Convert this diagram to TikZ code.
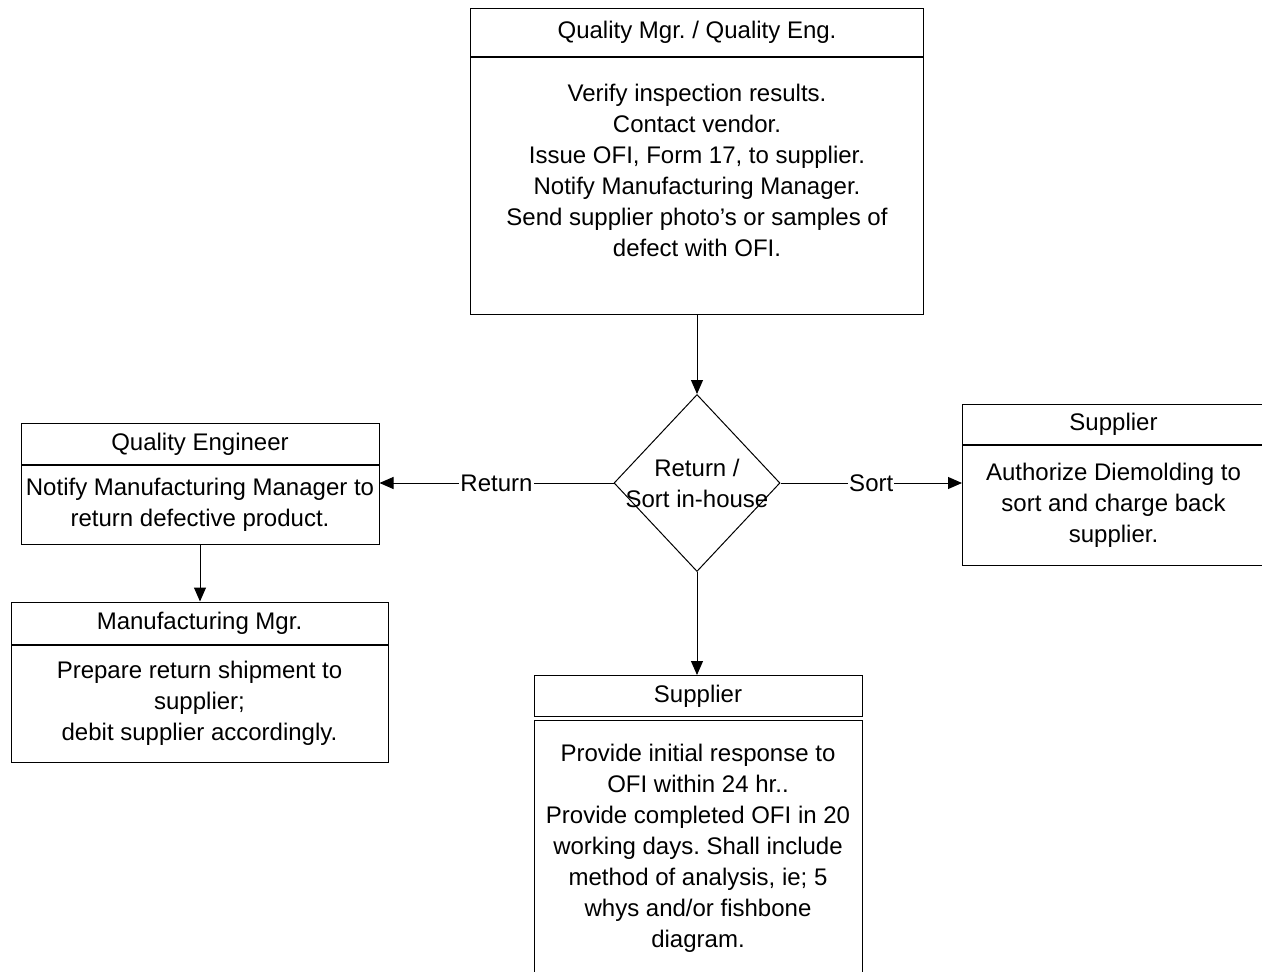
\documentclass[tikz,border=0pt]{standalone}
\usepackage{fontspec}
\setmainfont{Liberation Sans}
\usetikzlibrary{arrows.meta, positioning, shapes.geometric}

\tikzset{
	head/.style={draw, line width=1pt, inner sep=0pt, align=center, minimum height=41pt},
	body/.style={draw, line width=1pt, inner sep=0pt, align=center},
	arr/.style={line width=1pt, -{Triangle[length=14pt, width=12pt]}},
	lbl/.style={fill=white, inner sep=1pt}
}

\begin{document}
\begin{tikzpicture}[x=1pt, y=-1pt, every node/.style={font=\fontsize{24}{31}\selectfont\frenchspacing}]
			\useasboundingbox (0,0) rectangle (1262,972);
			% top box
			\node[head, minimum width=453pt, minimum height=48pt] (qmhead) at (697,32) {Quality Mgr. / Quality Eng.};
			\node[body, minimum width=453pt, minimum height=257pt, below=0pt of qmhead] (qmbody) {Verify inspection results.\\ Contact vendor.\\ Issue OFI, Form 17, to supplier.\\ Notify Manufacturing Manager.\\ Send supplier photo’s or samples of\\ defect with OFI.\\ ~};
			% decision
			\node[draw, line width=1pt, diamond, inner sep=0pt, minimum width=166pt, minimum height=177pt,
				label={[align=center]center:Return /\\Sort in-house}] (dec) at (697,483) {};
			% left side
			\node[head, minimum width=358pt] (qehead) at (200,444) {Quality Engineer};
			\node[body, minimum width=358pt, minimum height=79pt, below=0pt of qehead] (qebody) {Notify Manufacturing Manager to\\ return defective product.};
			\node[head, minimum width=377pt, minimum height=42pt] (mmhead) at (199.5,623) {Manufacturing Mgr.};
			\node[body, minimum width=377pt, minimum height=117pt, below=0pt of mmhead] (mmbody) {Prepare return shipment to\\ supplier;\\ debit supplier accordingly.};
			% right side, runs off the page
			\node[head, minimum width=400pt, minimum height=40pt, anchor=west] (rshead) at (962,424) {\hspace*{-98pt}Supplier};
			\node[body, minimum width=400pt, minimum height=120pt, below=0pt of rshead] (rsbody) {\hspace*{-98pt}\begin{tabular}{@{}c@{}}Authorize Diemolding to\\ sort and charge back\\ supplier.\end{tabular}};
			% bottom, runs off the page
			\node[head, minimum width=328pt] (bshead) at (698,696) {Supplier};
			\node[body, minimum width=328pt, minimum height=255pt, below=3pt of bshead] (bsbody) {Provide initial response to\\ OFI within 24 hr..\\ Provide completed OFI in 20\\ working days. Shall include\\ method of analysis, ie; 5\\ whys and/or fishbone\\ diagram.};
			% connectors
			\draw[arr] (qmbody.south) -- (dec.north);
			\draw[arr] (dec.west) -- node[lbl] {Return} (dec.west -| qebody.east);
			\draw[arr] (dec.east) -- node[lbl] {Sort} (dec.east -| rsbody.west);
			\draw[arr] (dec.south) -- (dec.south |- bshead.north);
			\draw[arr] (qebody.south) -- (qebody.south |- mmhead.north);
		\end{tikzpicture}
\end{document}
